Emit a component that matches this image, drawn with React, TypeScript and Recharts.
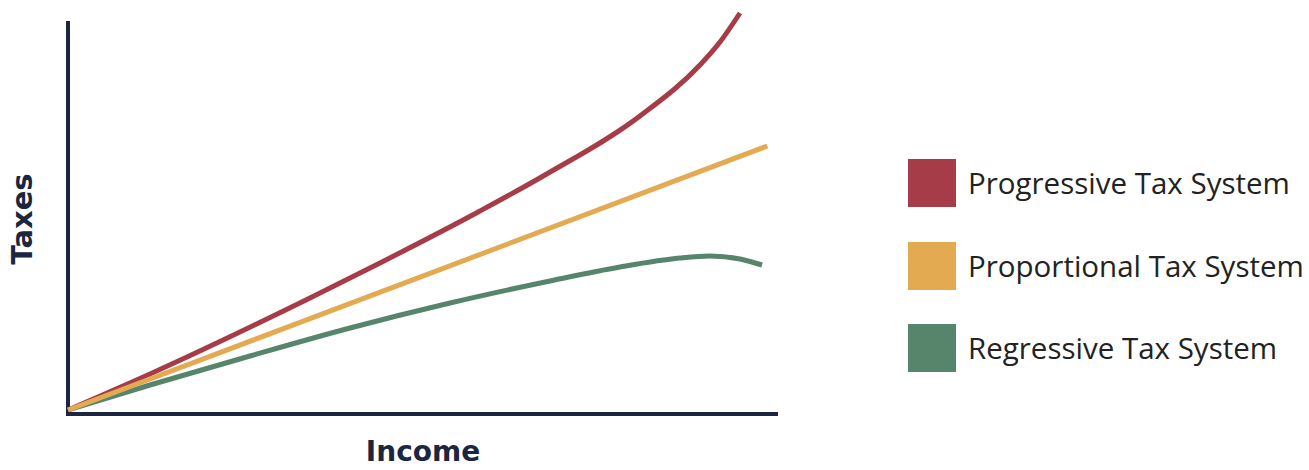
import { LineChart, Line, XAxis, YAxis, Legend, Label, ReferenceLine } from 'recharts';

// income (x) and taxes (y), both on a 0-100 scale
const progressiveIncome = [0, 11.55, 34.08, 43.94, 58.03, 67.18, 80.56, 89.01, 91.83, 94.65];
const progressiveTaxes = [0, 9, 28, 36.75, 49.75, 58.75, 73.5, 86.25, 92, 99.25];

const proportionalIncome = [0, 98.5];
const proportionalTaxes = [0, 66];

const regressiveIncome = [0, 11.55, 25.63, 39.72, 53.8, 67.89, 77.75, 86.2, 90.42, 94.65, 97.75];
const regressiveTaxes = [0, 6.25, 13.5, 20.5, 26.75, 32.25, 35.75, 38, 38.5, 37.75, 36.25];

const series = [
  { name: 'Progressive Tax System', color: '#a63c47', income: progressiveIncome, taxes: progressiveTaxes },
  { name: 'Proportional Tax System', color: '#e4aa52', income: proportionalIncome, taxes: proportionalTaxes },
  { name: 'Regressive Tax System', color: '#56856c', income: regressiveIncome, taxes: regressiveTaxes },
];

const axisColor = '#1b2640';
const titleStyle = { fontFamily: '"DejaVu Sans", sans-serif', fontWeight: 700, fontSize: 29, fill: axisColor };

const toPoints = (income: number[], taxes: number[]) =>
  income.map((x, i) => ({ income: x, taxes: taxes[i] }));

function LegendBox() {
  return (
    <div style={{ fontFamily: '"Open Sans", sans-serif', fontSize: 29.5, color: '#222' }}>
      {series.map((s) => (
        <div key={s.name} style={{ display: 'flex', alignItems: 'center', height: 48, marginBottom: 34.5 }}>
          <div style={{ width: 48, height: 48, background: s.color, marginRight: 12 }} />
          <span style={{ whiteSpace: 'nowrap', lineHeight: '48px' }}>{s.name}</span>
        </div>
      ))}
    </div>
  );
}

export default function App() {
  // draw order: red, green, orange (orange sits on top near the origin)
  const drawOrder = [series[0], series[2], series[1]];
  return (
    <div>
      <style>{'body { margin: 0; }'}</style>
      <LineChart width={1309} height={470} margin={{ top: 10, right: 531, bottom: 55, left: 67 }}>
        <XAxis
          type="number"
          dataKey="income"
          domain={[0, 100]}
          height={1}
          tick={false}
          tickLine={false}
          axisLine={{ stroke: axisColor, strokeWidth: 4 }}
        >
          <Label value="Income" position="bottom" offset={26} style={{ ...titleStyle, fontSize: 28 }} />
        </XAxis>
        <YAxis
          type="number"
          dataKey="taxes"
          domain={[-1, 100]}
          width={1}
          tick={false}
          tickLine={false}
          axisLine={false}
        >
          <Label
            content={() => (
              <text x={32} y={219} transform="rotate(-90 32 219)" textAnchor="middle" style={titleStyle}>
                Taxes
              </text>
            )}
          />
        </YAxis>
        {/* the y axis line stops a bit below the top of the plot */}
        <ReferenceLine
          segment={[{ x: 0, y: -1.5 }, { x: 0, y: 97.25 }]}
          stroke={axisColor}
          strokeWidth={4}
          ifOverflow="visible"
        />
        {drawOrder.map((s) => (
          <Line
            key={s.name}
            data={toPoints(s.income, s.taxes)}
            dataKey="taxes"
            name={s.name}
            type="monotone"
            stroke={s.color}
            strokeWidth={5}
            dot={false}
            activeDot={false}
            isAnimationActive={false}
          />
        ))}
        <Legend
          layout="vertical"
          align="center"
          verticalAlign="middle"
          wrapperStyle={{ left: 908, top: 159, width: 400 }}
          content={() => <LegendBox />}
        />
      </LineChart>
    </div>
  );
}
